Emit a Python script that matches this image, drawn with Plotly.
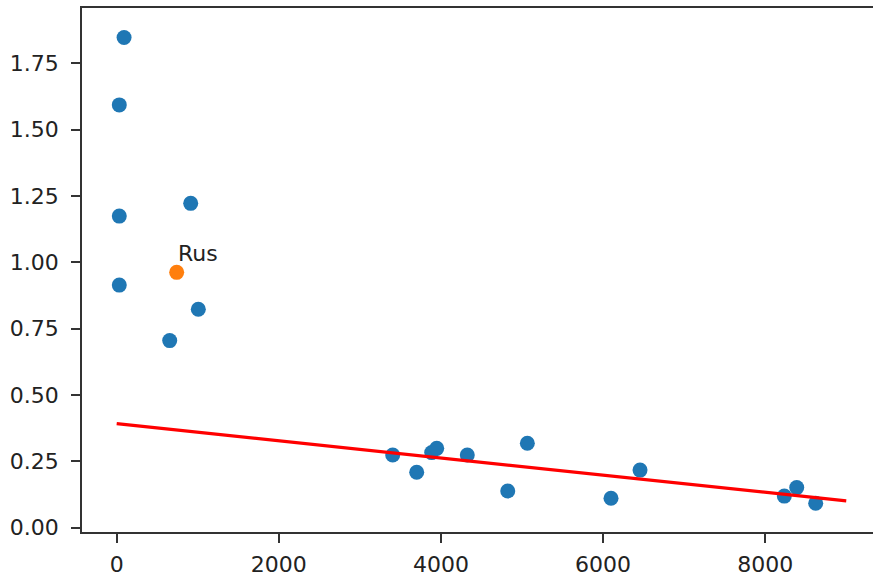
import plotly.graph_objects as go

# Blue points
blue_x = [91, 32, 32, 913, 32, 1007, 654, 3405, 3701, 3886, 3948, 4325, 4824, 5066,
          6098, 6456, 8236, 8389, 8623]
blue_y = [1.847, 1.593, 1.174, 1.222, 0.914, 0.823, 0.705, 0.274, 0.209, 0.283, 0.299,
          0.274, 0.138, 0.318, 0.111, 0.217, 0.119, 0.151, 0.092]

# Highlighted point
rus_x = [740]
rus_y = [0.962]
rus_label = "Rus"

# Trend line endpoints
line_x = [0, 9000]
line_y = [0.392, 0.101]

x_ticks = [0, 2000, 4000, 6000, 8000]
y_ticks = [0.0, 0.25, 0.5, 0.75, 1.0, 1.25, 1.5, 1.75]

FONT = "DejaVu Sans"
FS = 22

fig = go.Figure()
fig.add_trace(go.Scatter(x=blue_x, y=blue_y, mode="markers",
                         marker=dict(color="#1f77b4", size=15, line=dict(width=0)),
                         showlegend=False, hoverinfo="x+y"))
fig.add_trace(go.Scatter(x=rus_x, y=rus_y, mode="markers",
                         marker=dict(color="#ff7f0e", size=15, line=dict(width=0)),
                         showlegend=False, hoverinfo="x+y"))
fig.add_trace(go.Scatter(x=line_x, y=line_y, mode="lines",
                         line=dict(color="#ff0000", width=3.2),
                         showlegend=False, hoverinfo="skip"))

fig.add_annotation(x=rus_x[0], y=rus_y[0], text=rus_label, showarrow=False,
                   xanchor="left", yanchor="bottom", xshift=-1, yshift=4,
                   font=dict(family=FONT, size=FS, color="#222222"))

axis_common = dict(showgrid=False, zeroline=False, showline=True,
                   linecolor="#333333", linewidth=1.8,
                   ticks="outside", ticklen=9, tickwidth=1.6, tickcolor="#333333",
                   tickfont=dict(family=FONT, size=FS, color="#222222"))

fig.update_xaxes(range=[-428, 9330], tickvals=x_ticks,
                 ticktext=[str(v) for v in x_ticks], mirror=True,
                 ticklabelstandoff=3, **axis_common)
fig.update_yaxes(range=[-0.0162, 1.958], tickvals=y_ticks,
                 ticktext=[f"{v:.2f}" for v in y_ticks], mirror=False,
                 ticklabelstandoff=8, **axis_common)

fig.update_layout(width=873, height=576,
                  margin=dict(l=82, r=0, t=8, b=44),
                  paper_bgcolor="white", plot_bgcolor="white",
                  font=dict(family=FONT, size=FS))

fig.write_html("out.html")
